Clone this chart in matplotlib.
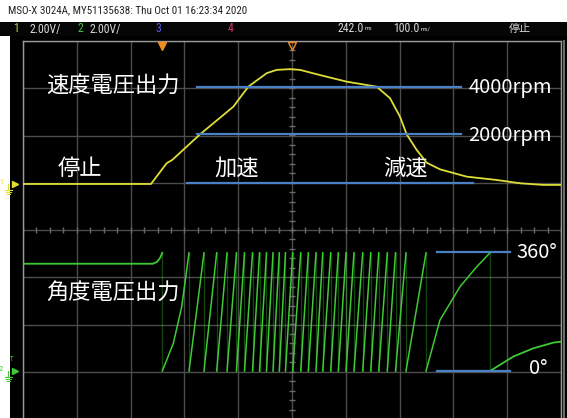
import numpy as np
import matplotlib
matplotlib.use("Agg")
import matplotlib.pyplot as plt
from matplotlib.patches import Rectangle
from matplotlib import font_manager

plt.rcParams['font.family'] = ['Noto Sans CJK JP', 'DejaVu Sans']

# ---- scope settings -------------------------------------------------------
volts_per_div = 2.0
ch1_ground_div = 0.974      # channel 1 ground level (divisions above centre)
ch2_ground_div = -2.984     # channel 2 ground level

# ---- channel 1: speed voltage output (time in ms, volts) -----------------
speed_t = [-500, -262.1, -232.9, -222.5, -171.0, -109.1, -81.2, -47.0, -28.4,
           -3.7, 14.9, 52.0, 101.7, 157.4, 182.2, 200.7, 213.2, 231.8, 250.4,
           275.1, 324.7, 380.5, 423.8, 467.1, 500]
speed_v = [0.0, 0.0, 0.88, 1.02, 2.10, 3.27, 4.12, 4.69, 4.83,
           4.86, 4.83, 4.61, 4.33, 4.12, 3.63, 2.85, 2.10, 1.44, 0.90,
           0.62, 0.31, 0.17, 0.03, -0.04, -0.04]

# rpm reference levels on channel 1 (volts) and their extents (ms)
rpm_labels = ["4000rpm", "2000rpm", ""]
rpm_levels_v = [4.12, 2.10, 0.06]
rpm_start_ms = [-176.0, -176.0, -195.7]
rpm_end_ms = [314.0, 314.0, 337.0]

# ---- channel 2: angle voltage output -------------------------------------
angle_top_v = 5.0
angle_idle_t = [-500, -258.4, -250.9, -245.3, -241.1]
angle_idle_v = [4.54, 4.54, 4.62, 4.78, 5.0]

# times (ms) at which the angle output wraps from 360° back to 0°
angle_wrap_ms = [-241.1, -191.4, -163.6, -140.0, -120.8, -103.2, -88.3, -73.4,
                 -60.4, -47.4, -35.3, -23.6, -12.1, 1.3, 16.2, 30.3, 44.6,
                 57.1, 71.9, 86.1, 100.4, 115.2, 131.4, 146.3, 161.2, 177.1,
                 192.4, 211.9, 249.1, 368.0]
# intermediate samples on the slow (curved) ramps: index of ramp -> (t, v)
angle_slow_ramps = {
    0: ([-220.6, -205.0], [1.17, 2.72]),
    28: ([275.1, 312.3, 343.3], [2.16, 3.57, 4.41]),
}
# last, unfinished ramp
angle_tail_t = [368.0, 411.3, 448.5, 485.7, 500]
angle_tail_v = [0.0, 0.61, 0.96, 1.20, 1.24]

angle_labels = ["360°", "0°"]
angle_levels_v = [5.02, 0.01]
angle_ref_start_ms = 269.0
angle_ref_end_ms = 405.0

YELLOW = "#dede36"
GREEN = "#3fca34"
BLUE = "#4a80c4"
GRID = "#4c4c4c"
BORDER = "#9a9a9a"

# pick a narrow face for the status texts if one is available
_names = {f.name for f in font_manager.fontManager.ttflist}
narrow = [n for n in ['Liberation Sans Narrow', 'Roboto Condensed', 'DejaVu Sans Condensed',
                      'Open Sans Condensed'] if n in _names] + ['Roboto', 'DejaVu Sans']


def ch1(v):
    return np.asarray(v) / volts_per_div + ch1_ground_div


def ch2(v):
    return np.asarray(v) / volts_per_div + ch2_ground_div


W, H = 567, 418
fig = plt.figure(figsize=(W / 100, H / 100), dpi=100, facecolor="white")


def fx(px):
    return px / W


def fy(py):
    return 1 - py / H


# screen background and status bar
fig.patches.append(Rectangle((fx(10), 0), 1 - fx(10), fy(36), transform=fig.transFigure,
                             facecolor="black", edgecolor="none", zorder=-10))
fig.patches.append(Rectangle((0, fy(36)), 1, fy(22) - fy(36), transform=fig.transFigure,
                             facecolor="#050505", edgecolor="none", zorder=-10))
fig.patches.append(Rectangle((fx(562.5), 0), fx(2.5), fy(40), transform=fig.transFigure,
                             facecolor="#6a6a6a", edgecolor="none", zorder=-9))

# header line
fig.text(fx(8), fy(10.5), "MSO-X 3024A, MY51135638: Thu Oct 01 16:23:34 2020",
         family=narrow, fontsize=7.9, stretch="condensed",
         color="#222222", va="center", ha="left")

bar_y = fy(29)
fig.text(fx(13), bar_y, "1", family=narrow, fontsize=8.5, color="#c8c83a", va="center")
fig.text(fx(30), bar_y, "2.00V/", family=narrow, fontsize=8.5, color="#d8d8d8", va="center")
fig.text(fx(78), bar_y, "2", family=narrow, fontsize=8.5, color="#3fc03f", va="center")
fig.text(fx(90), bar_y, "2.00V/", family=narrow, fontsize=8.5, color="#d8d8d8", va="center")
fig.text(fx(155), bar_y, "3", family=narrow, fontsize=8.5, color="#5a5ae0", va="center")
fig.text(fx(228), bar_y, "4", family=narrow, fontsize=8.5, color="#d8306a", va="center")
fig.text(fx(337), bar_y, "242.0", family=narrow, fontsize=8.5, color="#d8d8d8", va="center")
fig.text(fx(365), bar_y, "ms", family=narrow, fontsize=4.5, color="#d8d8d8", va="center")
fig.text(fx(393), bar_y, "100.0", family=narrow, fontsize=8.5, color="#d8d8d8", va="center")
fig.text(fx(421), bar_y, "ms/", family=narrow, fontsize=4.5, color="#d8d8d8", va="center")
fig.text(fx(509), bar_y, "停止", fontsize=8, color="#d8d8d8", va="center")

# graticule axes: 10 x 8 divisions, 100 ms/div
ax = fig.add_axes([fx(23), fy(419), fx(561) - fx(23), fy(41) - fy(419)])
ax.set_facecolor("black")
ax.set_xlim(-500, 500)
ax.set_ylim(-4, 4)
ax.set_xticks(np.arange(-500, 501, 100))
ax.set_yticks(np.arange(-4, 5, 1))
ax.grid(True, color=GRID, lw=1.0)
ax.tick_params(length=0, labelbottom=False, labelleft=False)
for s in ax.spines.values():
    s.set_color(BORDER)
    s.set_linewidth(1.0)
ax.spines["bottom"].set_visible(False)

# minor ticks on the centre cross
tx = np.arange(-500, 501, 25)
ax.plot(tx, np.zeros_like(tx), ls="none", marker="|", ms=4, color="#6a6a6a", mew=1)
ty = np.arange(-4, 4.01, 0.2)
ax.plot(np.zeros_like(ty), ty, ls="none", marker="_", ms=4, color="#6a6a6a", mew=1)

# channel 1 trace
ax.plot(speed_t, ch1(speed_v), color=YELLOW, lw=1.3, zorder=5)

# channel 2 trace
ax.plot(angle_idle_t, ch2(angle_idle_v), color=GREEN, lw=1.3, zorder=5)
for i in range(len(angle_wrap_ms) - 1):
    a, b = angle_wrap_ms[i], angle_wrap_ms[i + 1]
    mid_t, mid_v = angle_slow_ramps.get(i, ([], []))
    ax.plot([a] + list(mid_t) + [b], ch2([0.0] + list(mid_v) + [angle_top_v]),
            color=GREEN, lw=1.1, zorder=5)
for t in angle_wrap_ms:
    ax.plot([t, t], ch2([angle_top_v, 0.0]), color=GREEN, lw=0.9, alpha=0.35, zorder=4)
ax.plot(angle_tail_t, ch2(angle_tail_v), color=GREEN, lw=1.3, zorder=5)

# reference lines
for lab, v, a, b in zip(rpm_labels, rpm_levels_v, rpm_start_ms, rpm_end_ms):
    y = ch1(v)
    ax.plot([a, b], [y, y], color=BLUE, lw=1.6, zorder=6)
    if lab:
        ax.text(327.7, y - 0.02, lab, color="white", fontsize=14.5, va="center", ha="left",
                zorder=7)
for lab, v in zip(angle_labels, angle_levels_v):
    y = ch2(v)
    ax.plot([angle_ref_start_ms, angle_ref_end_ms], [y, y], color=BLUE, lw=1.6, zorder=6)
angle_label_x = [416.4, 441.0]
angle_label_y = [-0.47, -2.93]
for lab, x, y in zip(angle_labels, angle_label_x, angle_label_y):
    ax.text(x, y, lab, color="white", fontsize=14.5, va="center", ha="left", zorder=7)

# annotations
jp = dict(color="white", fontsize=16, va="center", ha="center", zorder=7)
ax.text(-332.7, 3.07, "速度電圧出力", **jp)
ax.text(-394.0, 1.31, "停止", **jp)
ax.text(-103.0, 1.31, "加速", **jp)
ax.text(210.0, 1.31, "減速", **jp)
ax.text(-332.7, -1.31, "角度電圧出力", **jp)

# trigger / reference markers along the top edge
ax.plot([-241.1], [3.9], marker="v", ms=6, color="#f08c1e", clip_on=False, zorder=8)
ax.plot([0], [3.9], marker="v", ms=6, mfc="none", mec="#f08c1e", clip_on=False, zorder=8)


def ground_marker(level, label, color, trig=False):
    ax.plot([-514], [level], marker=">", ms=4, color=color, clip_on=False)
    ax.text(-541, level + 0.05, label, color=color, fontsize=6, va="center",
            ha="center", family=narrow)
    # earth symbol below the marker
    ax.plot([-527, -527], [level, level - 0.12], color=color, lw=0.8, clip_on=False)
    for k, hw in enumerate([7, 4.5, 2]):
        yy = level - 0.12 - 0.05 * k
        ax.plot([-527 - hw, -527 + hw], [yy, yy], color=color, lw=0.8, clip_on=False)
    if trig:
        ax.text(-521, level + 0.25, "T", color=color, fontsize=5, va="center",
                ha="center", family=narrow)


ground_marker(ch1_ground_div, "1", YELLOW)
ground_marker(ch2_ground_div, "2", GREEN, trig=True)

fig.savefig("out.png", dpi=100, facecolor="white")
